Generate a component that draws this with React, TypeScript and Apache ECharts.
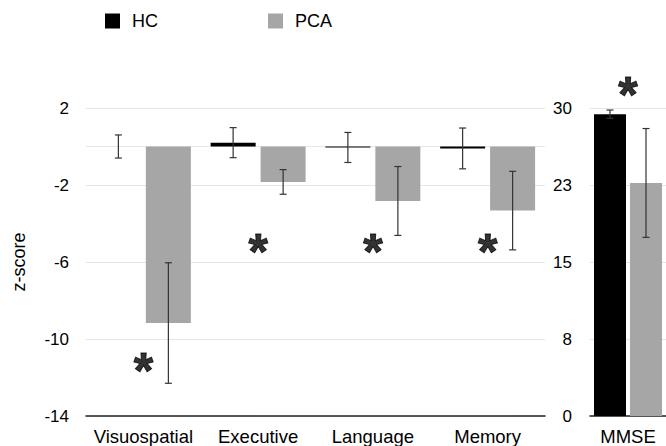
import React, { useEffect, useRef } from "react";
import * as echarts from "echarts";

// ---- data ----
const categories = ["Visuospatial", "Executive", "Language", "Memory"];
const hcMeans = [0, 0.2, -0.05, -0.1];
const hcErrors = [0.6, 0.78, 0.78, 1.06];
const pcaMeans = [-9.17, -1.84, -2.83, -3.33];
const pcaErrors = [3.13, 0.64, 1.79, 2.04];
const sigLeft = [-11.3, -5.1, -5.1, -5.1];

const mmseCategories = ["MMSE"];
const mmseHc = [29.4];
const mmseHcErr = [0.4];
const mmsePca = [22.7];
const mmsePcaErr = [5.3];
const mmseSig = [31.9];

const zAxisMin = -14;
const zAxisMax = 2;
const zAxisStep = 4;
const mmseAxisMin = 0;
const mmseAxisMax = 30;
const mmseAxisStep = 7.5;

const FONT = "'Liberation Sans', Arial, Helvetica, sans-serif";
const HC_COLOR = "#000000";
const PCA_COLOR = "#a6a6a6";
const GRID_COLOR = "#e6e6e6";

function errorRender(offsetPx: number) {
  return (params: any, api: any) => {
    const x = api.value(0);
    const m = api.value(1);
    const e = api.value(2);
    const top = api.coord([x, m + e]);
    const bot = api.coord([x, m - e]);
    const cx = top[0] + offsetPx;
    const half = 3.5;
    const style = { stroke: "#333333", lineWidth: 1.2, fill: "none" };
    return {
      type: "group",
      children: [
        { type: "line", shape: { x1: cx, y1: top[1], x2: cx, y2: bot[1] }, style },
        { type: "line", shape: { x1: cx - half, y1: top[1], x2: cx + half, y2: top[1] }, style },
        { type: "line", shape: { x1: cx - half, y1: bot[1], x2: cx + half, y2: bot[1] }, style },
      ],
    };
  };
}

const asteriskLabel = {
  show: true,
  position: "inside",
  formatter: "*",
  fontSize: 50,
  fontWeight: "bold",
  fontFamily: FONT,
  color: "#000000",
  textBorderColor: "#000000",
  textBorderWidth: 1,
  align: "center",
  verticalAlign: "middle",
  offset: [0, 7],
};

export default function App() {
  const ref = useRef<HTMLDivElement>(null);

  useEffect(() => {
    document.body.style.margin = "0";
    if (!ref.current) return;
    const chart = echarts.init(ref.current, undefined, { renderer: "svg" });

    const option: any = {
      animation: false,
      backgroundColor: "#ffffff",
      textStyle: { fontFamily: FONT },
      legend: {
        data: ["HC", "PCA"],
        left: 105,
        top: 12,
        padding: 0,
        itemWidth: 15,
        itemHeight: 15,
        itemGap: 110,
        icon: "rect",
        textStyle: { fontSize: 18, color: "#000", fontFamily: FONT, padding: [0, 0, 0, 7] },
        selectedMode: false,
      },
      grid: [
        { left: 86, right: 121, top: 108, bottom: 29.3 },
        { left: 590, width: 84, top: 108, bottom: 29.3 },
      ],
      xAxis: [
        {
          type: "category",
          gridIndex: 0,
          data: categories,
          axisLine: { onZero: false, lineStyle: { color: "#222", width: 1.5 } },
          axisTick: { show: false },
          axisLabel: { fontSize: 18.5, color: "#000", margin: 11, fontFamily: FONT, interval: 0 },
        },
        {
          type: "category",
          gridIndex: 1,
          data: mmseCategories,
          axisLine: { onZero: false, lineStyle: { color: "#222", width: 1.5 } },
          axisTick: { show: false },
          axisLabel: { fontSize: 18.5, color: "#000", margin: 11, fontFamily: FONT },
        },
      ],
      yAxis: [
        {
          type: "value",
          gridIndex: 0,
          min: zAxisMin,
          max: zAxisMax,
          interval: zAxisStep,
          name: "z-score",
          nameLocation: "middle",
          nameGap: 58,
          nameTextStyle: { fontSize: 18, color: "#000", fontFamily: FONT },
          axisLine: { show: false },
          axisTick: { show: false },
          axisLabel: { fontSize: 17, color: "#000", margin: 17, fontFamily: FONT },
          splitLine: { show: true, lineStyle: { color: GRID_COLOR, width: 1 } },
        },
        {
          type: "value",
          gridIndex: 1,
          position: "left",
          min: mmseAxisMin,
          max: mmseAxisMax,
          interval: mmseAxisStep,
          axisLine: { show: false },
          axisTick: { show: false },
          axisLabel: {
            fontSize: 17,
            color: "#000",
            margin: 18,
            fontFamily: FONT,
            formatter: (v: number) => String(Math.round(v)),
          },
          splitLine: { show: true, lineStyle: { color: GRID_COLOR, width: 1 } },
        },
      ],
      series: [
        {
          name: "HC",
          type: "bar",
          xAxisIndex: 0,
          yAxisIndex: 0,
          data: hcMeans,
          barWidth: 45,
          barGap: "11%",
          itemStyle: { color: HC_COLOR },
          markLine: {
            silent: true,
            symbol: "none",
            label: { show: false },
            lineStyle: { color: GRID_COLOR, width: 1, type: "solid" },
            data: [{ yAxis: 0 }],
            z: 1,
          },
        },
        {
          name: "PCA",
          type: "bar",
          xAxisIndex: 0,
          yAxisIndex: 0,
          data: pcaMeans,
          barWidth: 45,
          barGap: "11%",
          itemStyle: { color: PCA_COLOR },
        },
        {
          name: "HC err",
          type: "custom",
          xAxisIndex: 0,
          yAxisIndex: 0,
          renderItem: errorRender(-25),
          data: categories.map((_, i) => [i, hcMeans[i], hcErrors[i]]),
          encode: { x: 0, y: 1 },
          z: 5,
          silent: true,
        },
        {
          name: "PCA err",
          type: "custom",
          xAxisIndex: 0,
          yAxisIndex: 0,
          renderItem: errorRender(25),
          data: categories.map((_, i) => [i, pcaMeans[i], pcaErrors[i]]),
          encode: { x: 0, y: 1 },
          z: 5,
          silent: true,
        },
        {
          name: "sig",
          type: "scatter",
          xAxisIndex: 0,
          yAxisIndex: 0,
          symbolSize: 0,
          data: categories.map((_, i) => [i, sigLeft[i]]),
          label: asteriskLabel,
          clip: false,
          z: 6,
          silent: true,
        },
        {
          name: "HC",
          type: "bar",
          xAxisIndex: 1,
          yAxisIndex: 1,
          data: mmseHc,
          barWidth: 32,
          barGap: "12.5%",
          itemStyle: { color: HC_COLOR },
        },
        {
          name: "PCA",
          type: "bar",
          xAxisIndex: 1,
          yAxisIndex: 1,
          data: mmsePca,
          barWidth: 32,
          barGap: "12.5%",
          itemStyle: { color: PCA_COLOR },
        },
        {
          name: "HC mmse err",
          type: "custom",
          xAxisIndex: 1,
          yAxisIndex: 1,
          renderItem: errorRender(-18),
          data: mmseCategories.map((_, i) => [i, mmseHc[i], mmseHcErr[i]]),
          encode: { x: 0, y: 1 },
          z: 5,
          silent: true,
          clip: false,
        },
        {
          name: "PCA mmse err",
          type: "custom",
          xAxisIndex: 1,
          yAxisIndex: 1,
          renderItem: errorRender(18),
          data: mmseCategories.map((_, i) => [i, mmsePca[i], mmsePcaErr[i]]),
          encode: { x: 0, y: 1 },
          z: 5,
          silent: true,
          clip: false,
        },
        {
          name: "mmse sig",
          type: "scatter",
          xAxisIndex: 1,
          yAxisIndex: 1,
          symbolSize: 0,
          data: mmseCategories.map((_, i) => [i, mmseSig[i]]),
          label: asteriskLabel,
          clip: false,
          z: 6,
          silent: true,
        },
      ],
    };

    chart.setOption(option);
    return () => chart.dispose();
  }, []);

  return <div ref={ref} style={{ width: 666, height: 446 }} />;
}
